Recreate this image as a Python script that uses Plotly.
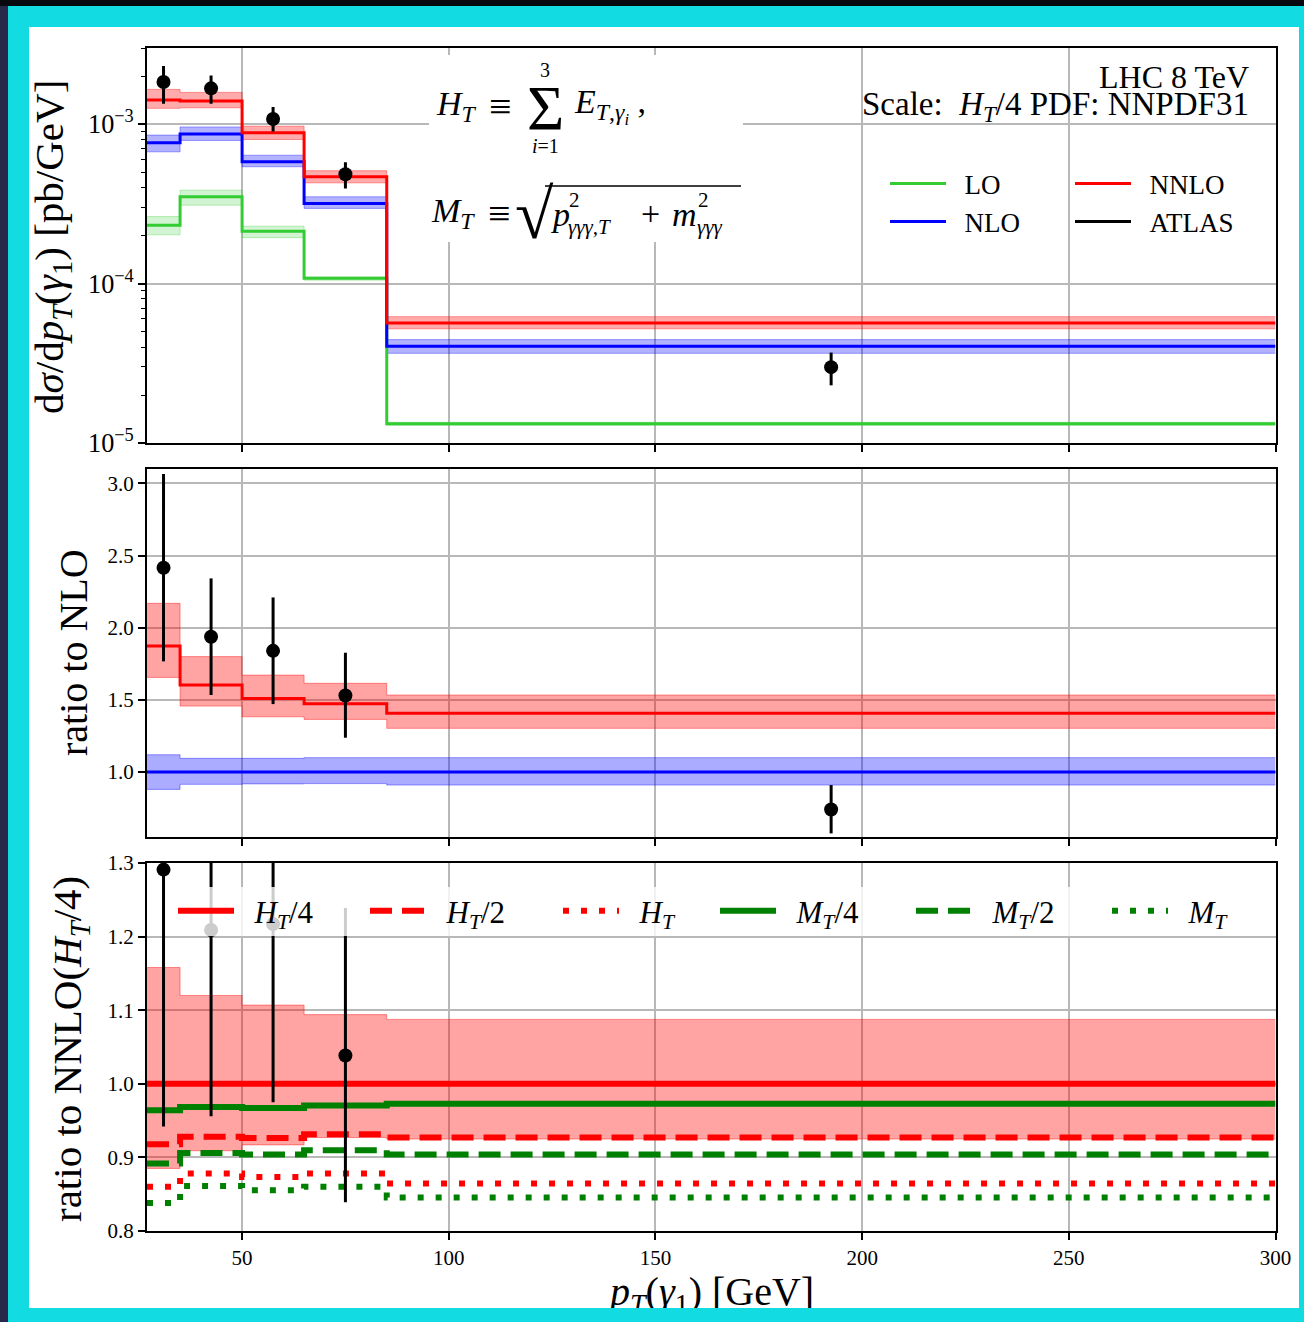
import math
import plotly.graph_objects as go

# ---------------- data ----------------
bin_edges = [27, 35, 50, 65, 85, 300]
bin_centers = [31, 42.5, 57.5, 75, 192.5]

# top panel: d sigma / d pT  [pb/GeV]
lo = [2.32e-4, 3.50e-4, 2.13e-4, 1.08e-4, 1.32e-5]
lo_low = [2.02e-4, 3.10e-4, 1.94e-4, 1.05e-4, 1.29e-5]
lo_high = [2.63e-4, 3.85e-4, 2.29e-4, 1.10e-4, 1.35e-5]
nlo = [7.63e-4, 8.65e-4, 5.80e-4, 3.18e-4, 4.04e-5]
nlo_low = [6.70e-4, 7.90e-4, 5.40e-4, 2.96e-4, 3.65e-5]
nlo_high = [8.53e-4, 9.60e-4, 6.38e-4, 3.50e-4, 4.45e-5]
nnlo = [1.415e-3, 1.395e-3, 8.82e-4, 4.67e-4, 5.66e-5]
nnlo_low = [1.255e-3, 1.265e-3, 8.00e-4, 4.28e-4, 5.20e-5]
nnlo_high = [1.65e-3, 1.58e-3, 9.70e-4, 5.10e-4, 6.20e-5]
atlas = [1.835e-3, 1.675e-3, 1.075e-3, 4.85e-4, 2.99e-5]
atlas_high = [2.31e-3, 2.02e-3, 1.28e-3, 5.77e-4, 3.69e-5]
atlas_low = [1.34e-3, 1.34e-3, 9.00e-4, 3.95e-4, 2.30e-5]

# middle panel: ratio to NLO
r_nnlo = [1.873, 1.603, 1.510, 1.473, 1.407]
r_nnlo_low = [1.656, 1.457, 1.383, 1.365, 1.303]
r_nnlo_high = [2.169, 1.800, 1.672, 1.615, 1.534]
r_nlo = [1.0, 1.0, 1.0, 1.0, 1.0]
r_nlo_low = [0.880, 0.915, 0.918, 0.920, 0.910]
r_nlo_high = [1.120, 1.095, 1.095, 1.100, 1.100]
r_atlas = [2.416, 1.938, 1.840, 1.531, 0.741]
r_atlas_high = [3.065, 2.342, 2.210, 1.827, 0.910]
r_atlas_low = [1.767, 1.534, 1.471, 1.238, 0.575]

# bottom panel: ratio to NNLO(H_T/4)
s_band_low = [0.885, 0.909, 0.917, 0.927, 0.925]
s_band_high = [1.158, 1.120, 1.107, 1.094, 1.0875]
s_ht4 = [1.0, 1.0, 1.0, 1.0, 1.0]
s_ht2 = [0.918, 0.928, 0.9265, 0.9315, 0.927]
s_ht = [0.860, 0.878, 0.8734, 0.878, 0.8645]
s_mt4 = [0.964, 0.9686, 0.967, 0.9705, 0.973]
s_mt2 = [0.8917, 0.906, 0.904, 0.9097, 0.904]
s_mt = [0.838, 0.861, 0.8553, 0.860, 0.8454]
s_atlas = [1.291, 1.209, 1.217, 1.0385, 0.527]
s_atlas_high = [1.640, 1.460, 1.460, 1.239, 0.647]
s_atlas_low = [0.942, 0.956, 0.975, 0.839, 0.410]

x_ticks = [50, 100, 150, 200, 250, 300]
ratio_ticks = [1.0, 1.5, 2.0, 2.5, 3.0]
scale_ticks = [0.8, 0.9, 1.0, 1.1, 1.2, 1.3]

# ---------------- styling ----------------
W, H = 1304, 1322
FONT = "Liberation Serif"
CYAN = "#12dbe1"
RED, BLUE, LIME, DGREEN = "#ff0000", "#0000ff", "#33cc33", "#008000"
GRID = "#b8b8b8"
NB = "\u00a0"


def px(x):
    return x / W


def py(y):
    return 1 - y / H


def steps(vals):
    return list(vals) + [vals[-1]]


fig = go.Figure()


def band(low, high, color, xa, ya, edge):
    fig.add_trace(go.Scatter(x=bin_edges, y=steps(low), mode="lines", line_shape="hv",
                             line=dict(color=edge, width=1), showlegend=False,
                             xaxis=xa, yaxis=ya, hoverinfo="skip"))
    fig.add_trace(go.Scatter(x=bin_edges, y=steps(high), mode="lines", line_shape="hv",
                             line=dict(color=edge, width=1), fill="tonexty",
                             fillcolor=color, showlegend=False, xaxis=xa, yaxis=ya,
                             hoverinfo="skip"))


def stepline(vals, color, width, xa, ya, name=None, legend=None, dash="solid"):
    fig.add_trace(go.Scatter(x=bin_edges, y=steps(vals), mode="lines", line_shape="hv",
                             line=dict(color=color, width=width, dash=dash),
                             name=name, showlegend=legend is not None,
                             legend=legend if legend else "legend",
                             xaxis=xa, yaxis=ya))


def points(vals, hi, lo_, xa, ya):
    fig.add_trace(go.Scatter(
        x=bin_centers, y=vals, mode="markers",
        marker=dict(color="black", size=14),
        error_y=dict(type="data", symmetric=False,
                     array=[h - v for h, v in zip(hi, vals)],
                     arrayminus=[v - l for v, l in zip(vals, lo_)],
                     color="black", thickness=3, width=0),
        showlegend=False, xaxis=xa, yaxis=ya))


def lbl(text):
    return NB + NB + text


# ---- top panel ----
band(lo_low, lo_high, "rgba(51,204,51,0.22)", "x", "y", "rgba(51,204,51,0.3)")
band(nlo_low, nlo_high, "rgba(0,0,255,0.3)", "x", "y", "rgba(0,0,255,0.35)")
band(nnlo_low, nnlo_high, "rgba(255,0,0,0.33)", "x", "y", "rgba(255,0,0,0.38)")
stepline(lo, LIME, 3, "x", "y", lbl("LO"), "legend")
stepline(nlo, BLUE, 3, "x", "y", lbl("NLO"), "legend2")
stepline(nnlo, RED, 3, "x", "y", lbl("NNLO"), "legend3")
points(atlas, atlas_high, atlas_low, "x", "y")
fig.add_trace(go.Scatter(x=[None], y=[None], mode="lines", line=dict(color="black", width=3),
                         name=lbl("ATLAS"), legend="legend4", xaxis="x", yaxis="y"))

# ---- middle panel ----
band(r_nlo_low, r_nlo_high, "rgba(0,0,255,0.33)", "x2", "y2", "rgba(0,0,255,0.38)")
band(r_nnlo_low, r_nnlo_high, "rgba(255,0,0,0.36)", "x2", "y2", "rgba(255,0,0,0.4)")
stepline(r_nlo, BLUE, 3, "x2", "y2")
stepline(r_nnlo, RED, 3, "x2", "y2")
points(r_atlas, r_atlas_high, r_atlas_low, "x2", "y2")

# ---- bottom panel ----
band(s_band_low, s_band_high, "rgba(255,0,0,0.36)", "x3", "y3", "rgba(255,0,0,0.4)")
LW = 6
HT = "<i>H</i><sub><i>T</i></sub>"
MT = "<i>M</i><sub><i>T</i></sub>"
stepline(s_ht4, RED, LW, "x3", "y3", lbl(HT + "/4"), "legend5")
stepline(s_ht2, RED, LW, "x3", "y3", lbl(HT + "/2"), "legend6", dash="22px,10px")
stepline(s_ht, RED, LW, "x3", "y3", lbl(HT), "legend7", dash="6px,12px")
stepline(s_mt4, DGREEN, LW, "x3", "y3", lbl(MT + "/4"), "legend8")
stepline(s_mt2, DGREEN, LW, "x3", "y3", lbl(MT + "/2"), "legend9", dash="22px,10px")
stepline(s_mt, DGREEN, LW, "x3", "y3", lbl(MT), "legend10", dash="6px,12px")
points(s_atlas, s_atlas_high, s_atlas_low, "x3", "y3")

# ---------------- axes ----------------
xdom = [px(147), px(1275.5)]
tickfont = dict(family=FONT, size=21, color="black")
common_x = dict(range=[27, 300], domain=xdom, tickvals=x_ticks, ticks="outside", ticklen=7,
                tickwidth=1.5, tickcolor="black", showline=True, mirror=True,
                linecolor="black", linewidth=2, showgrid=True, gridcolor=GRID, gridwidth=1.5,
                zeroline=False, tickfont=tickfont, automargin=False)
common_y = dict(ticks="outside", ticklen=7, tickwidth=1.5, tickcolor="black", showline=True,
                mirror=True, linecolor="black", linewidth=2, showgrid=True, gridcolor=GRID,
                gridwidth=1.5, zeroline=False, tickfont=tickfont, automargin=False)

layout = dict(
    template="none",
    width=W, height=H, margin=dict(l=0, r=0, t=0, b=0, pad=0, autoexpand=False),
    paper_bgcolor=CYAN, plot_bgcolor="white",
    font=dict(family=FONT, color="black"),
    xaxis=dict(common_x, anchor="y", showticklabels=False),
    xaxis2=dict(common_x, anchor="y2", showticklabels=False, matches="x"),
    xaxis3=dict(common_x, anchor="y3", showticklabels=True, matches="x"),
    yaxis=dict(common_y, type="log", domain=[py(443), py(48)], anchor="x",
               range=[-5, math.log10(3e-3)], dtick=1, exponentformat="power",
               showexponent="all",
               minor=dict(ticks="outside", ticklen=4, tickwidth=1, tickcolor="black",
                          dtick="D1", showgrid=False)),
    yaxis2=dict(common_y, domain=[py(837), py(469)], anchor="x2", range=[0.55, 3.1],
                tickvals=ratio_ticks, tickformat=".1f"),
    yaxis3=dict(common_y, domain=[py(1231), py(863)], anchor="x3", range=[0.8, 1.3],
                tickvals=scale_ticks, tickformat=".1f"),
    showlegend=True,
)


def leg(x, y, size=27):
    return dict(x=px(x - 5), y=py(y), xanchor="left", yanchor="middle",
                bgcolor="rgba(0,0,0,0)", borderwidth=0, itemwidth=56,
                font=dict(family=FONT, size=size, color="black"))


layout["legend"] = leg(890, 184)
layout["legend2"] = leg(890, 222)
layout["legend3"] = leg(1075, 184)
layout["legend4"] = leg(1075, 222)
for name, xs in zip(["legend5", "legend6", "legend7", "legend8", "legend9", "legend10"],
                    [178, 370, 563, 720, 916, 1112]):
    layout[name] = leg(xs, 911, 31)

fig.update_layout(**layout)

# ---------------- decoration shapes ----------------
shapes = [
    dict(type="rect", xref="paper", yref="paper", x0=px(29), x1=px(1299), y0=py(1308), y1=py(27),
         fillcolor="white", line_width=0, layer="below"),
    dict(type="rect", xref="paper", yref="paper", x0=0, x1=px(8), y0=0, y1=1,
         fillcolor="#272a48", line_width=0, layer="below"),
    dict(type="rect", xref="paper", yref="paper", x0=0, x1=1, y0=py(6), y1=1,
         fillcolor="#08080f", line_width=0, layer="below"),
    # white box behind the formulas
    dict(type="rect", xref="paper", yref="paper", x0=px(429), x1=px(743), y0=py(242), y1=py(55),
         fillcolor="white", line_width=0, layer="above"),
    # legend box of the bottom panel
    dict(type="rect", xref="paper", yref="paper", x0=px(170), x1=px(1233), y0=py(936), y1=py(887),
         fillcolor="rgba(255,255,255,0.8)", line_width=0, layer="above"),
    # square-root bar
    dict(type="line", xref="paper", yref="paper", x0=px(545), x1=px(741), y0=py(186), y1=py(186),
         line=dict(color="black", width=1.5), layer="above"),
]
fig.update_layout(shapes=shapes)


def ann(text, x, y, size=28, xanchor="left", yanchor="middle", angle=0):
    return dict(text=text, x=px(x), y=py(y), xref="paper", yref="paper", showarrow=False,
                xanchor=xanchor, yanchor=yanchor, textangle=angle,
                font=dict(family=FONT, size=size, color="black"))


annotations = [
    # axis titles
    ann("d<i>σ</i>/d<i>p</i><sub><i>T</i></sub>(<i>γ</i><sub>1</sub>) [pb/GeV]", 52, 247, 41,
        "center", "middle", -90),
    ann("ratio to NLO", 74, 653, 40, "center", "middle", -90),
    ann("ratio to NNLO(" + HT + "/4)", 70, 1049, 41, "center", "middle", -90),
    ann("<i>p</i><sub><i>T</i></sub>(<i>γ</i><sub>1</sub>) [GeV]", 710, 1294, 40, "center", "middle"),
    # top-right text
    ann("LHC 8 TeV", 1251, 77, 32, "right"),
    ann("Scale:  " + HT + "/4 PDF: NNPDF31", 1251, 106, 33, "right"),
    # H_T definition
    ann(HT, 434, 106, 34),
    ann("≡", 500, 106, 40, "center"),
    ann("Σ", 545, 108, 64, "center"),
    ann("3", 545, 70, 20, "center"),
    ann("<i>i</i>=1", 545, 146, 20, "center"),
    ann("<i>E</i><sub><i>T</i>,<i>γ</i><sub><i>i</i></sub></sub> ,", 572, 106, 34),
    # M_T definition
    ann(MT, 429, 213, 34),
    ann("≡", 499, 213, 40, "center"),
    ann("√", 534, 214, 70, "center"),
    ann("<i>p</i>", 549, 214, 34),
    ann("2", 567, 200, 21),
    ann("<i>γγγ,T</i>", 566, 227, 21),
    ann("+", 650, 213, 34, "center"),
    ann("<i>m</i>", 670, 214, 34),
    ann("2", 696, 200, 21),
    ann("<i>γγγ</i>", 695, 227, 21),
    # cyan frame strip at the bottom (the frame crops the x-axis title as in the original)
    dict(text=NB, x=px(8), y=0, xref="paper", yref="paper", showarrow=False,
         xanchor="left", yanchor="bottom", width=W - 8, height=14, borderpad=0,
         borderwidth=0, bgcolor=CYAN, font=dict(size=10, color=CYAN)),
]
fig.update_layout(annotations=annotations)

fig.write_html("out.html")
